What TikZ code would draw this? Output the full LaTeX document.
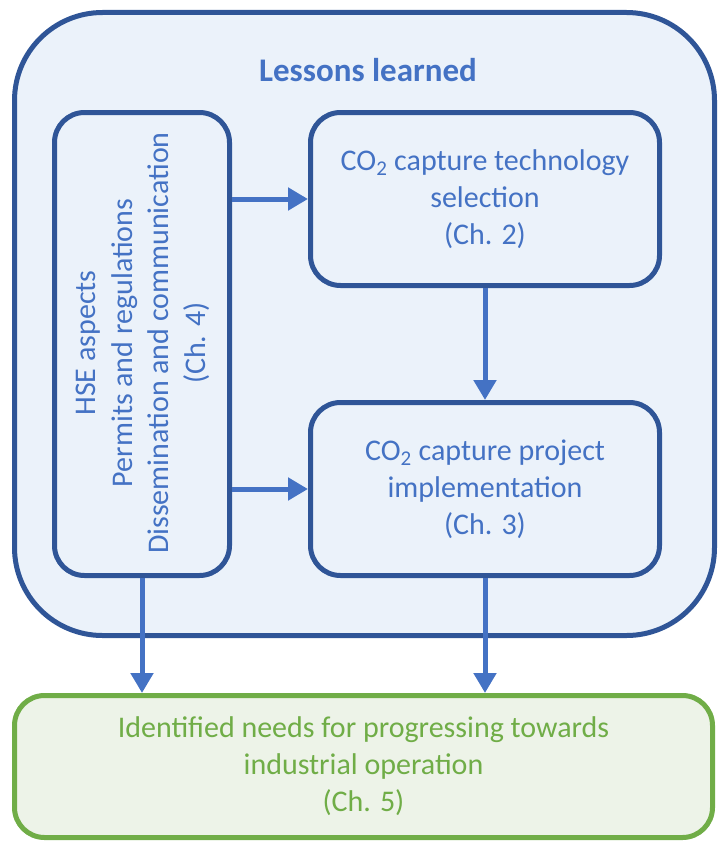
\documentclass[tikz,border=0pt]{standalone}
\usepackage{fontspec}
\setmainfont{Carlito}
\usetikzlibrary{arrows.meta}

\definecolor{frameblue}{RGB}{47,85,151}
\definecolor{textblue}{RGB}{68,114,196}
\definecolor{paleblue}{RGB}{235,242,250}
\definecolor{leafgreen}{RGB}{112,173,71}
\definecolor{palegreen}{RGB}{237,243,232}

\tikzset{
    chapbox/.style={draw=frameblue, line width=5pt, fill=paleblue, rounded corners=30pt,
        text=textblue, align=center, inner sep=0pt, font=\fontsize{30}{37}\selectfont},
    flow/.style={draw=textblue, line width=5pt, -{Triangle[width=22pt,length=20pt]}},
}

\begin{document}
\begin{tikzpicture}[x=1pt, y=-1pt]
    \useasboundingbox (0,0) rectangle (719,843);
    % big frame round the lessons
    \node[chapbox, rounded corners=88pt, minimum width=700pt, minimum height=623pt] (lessons) at (364.5,324) {};
    \node[text=textblue, font=\fontsize{33}{36}\selectfont\bfseries] (title) at (368,70) {Lessons learned};

    \node[chapbox, minimum width=175pt, minimum height=463pt] (hse) at (142,344) {};
    \node[rotate=90, text=textblue, align=center, font=\fontsize{30}{36.5}\selectfont] (hsetext) at (143,343)
        {HSE aspects\\Permits and regulations\\Dissemination and communication\\(Ch. 4)};
    \node[chapbox, minimum width=349pt, minimum height=173pt] (tech) at (485,199)
        {CO\textsubscript{2} capture technology\\selection\\(Ch. 2)};
    \node[chapbox, minimum width=349pt, minimum height=173pt] (impl) at (485,489)
        {CO\textsubscript{2} capture project\\implementation\\(Ch. 3)};

    % outcome
    \node[chapbox, draw=leafgreen, fill=palegreen, text=leafgreen, minimum width=698pt, minimum height=142pt] (needs) at (363.5,766.5)
        {Identified needs for progressing towards\\industrial operation\\(Ch. 5)};

    \draw[flow] (tech.west -| hse.east) -- (tech.west);
    \draw[flow] (impl.west -| hse.east) -- (impl.west);
    \draw[flow] (tech.south) -- (impl.north);
    \draw[flow] (hse.south) -- (needs.north -| hse.south);
    \draw[flow] (impl.south) -- (needs.north -| impl.south);
\end{tikzpicture}
\end{document}
